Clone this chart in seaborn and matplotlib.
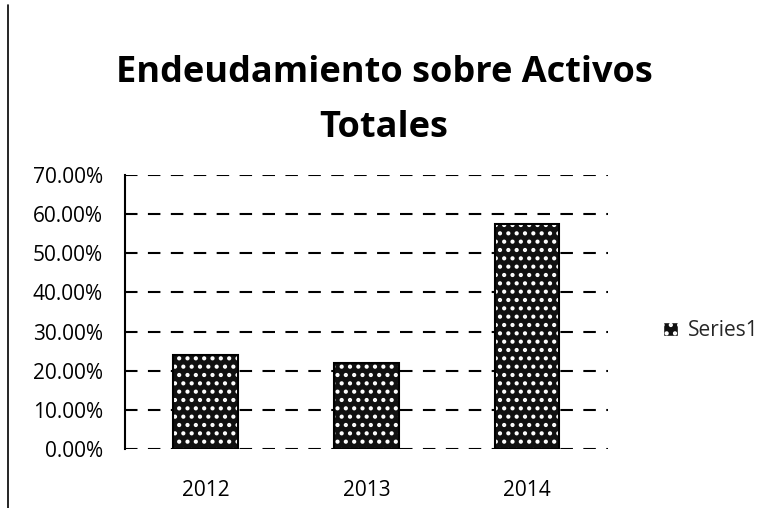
import matplotlib
matplotlib.use("Agg")
import matplotlib.pyplot as plt
from matplotlib.patches import Patch
from matplotlib.lines import Line2D
import seaborn as sns
import pandas as pd

# --- Data ---
years = ["2012", "2013", "2014"]
debt_ratio_pct = [24.0, 21.9, 57.4]
y_ticks = [0, 10, 20, 30, 40, 50, 60, 70]
title_text = "Endeudamiento sobre Activos\nTotales"
series_name = "Series1"

sns.set_theme(style="white")
plt.rcParams["font.family"] = ["Open Sans", "DejaVu Sans"]
plt.rcParams["hatch.linewidth"] = 1.8

df = pd.DataFrame({"year": years, "value": debt_ratio_pct})

fig = plt.figure(figsize=(7.73, 5.08), dpi=100)
ax = fig.add_axes([0.1617, 0.1161, 0.6244, 0.5394])

sns.barplot(data=df, x="year", y="value", color="#111111", width=0.4,
            saturation=1, ax=ax, zorder=3)
for bar in ax.patches:
    bar.set_hatch("..")
    bar.set_edgecolor("white")
    bar.set_linewidth(0)
    # black outline drawn on top of the speckle
    ax.add_patch(plt.Rectangle(bar.get_xy(), bar.get_width(), bar.get_height(),
                               fill=False, edgecolor="black", linewidth=1.5, zorder=4))

ax.set_ylim(0, 70)
ax.set_xlim(-0.5, 2.5)
ax.set_yticks(y_ticks)
ax.set_yticklabels([f"{t:.2f}%" for t in y_ticks])
ax.yaxis.grid(True, color="black", linestyle=(0, (6, 5)), linewidth=1.5, zorder=0)
ax.set_xlabel("")
ax.set_ylabel("")
ax.tick_params(axis="y", labelsize=15, pad=16, length=0)
ax.tick_params(axis="x", labelsize=15, pad=22, length=0)
for lab in ax.get_xticklabels() + ax.get_yticklabels():
    lab.set_color("black")

for side in ["top", "right", "bottom"]:
    ax.spines[side].set_visible(False)
ax.spines["left"].set_color("black")
ax.spines["left"].set_linewidth(1.5)

fig.suptitle(title_text, x=0.497, y=0.892, fontsize=26, fontweight="bold",
             color="black", linespacing=1.7)

handle = Patch(facecolor="#111111", edgecolor="white", hatch="..")
fig.legend([handle], [series_name], loc="center left",
           bbox_to_anchor=(0.834, 0.349), frameon=False, fontsize=15,
           handlelength=0.7, handleheight=0.7, handletextpad=0.5)

# scan border line on the left edge
fig.add_artist(Line2D([0.01, 0.01], [0.0, 0.99], color="black", linewidth=1.2))

fig.savefig("out.png", dpi=100, facecolor="white")
